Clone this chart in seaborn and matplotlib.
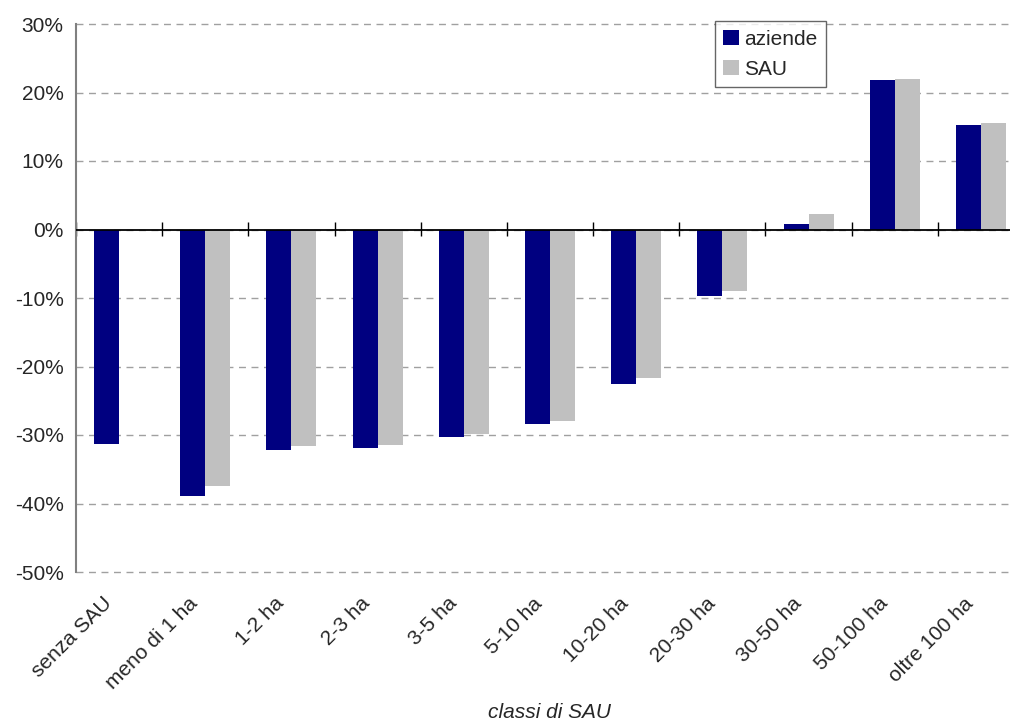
import numpy as np
import pandas as pd
import matplotlib
matplotlib.use('Agg')
import matplotlib.pyplot as plt
from matplotlib.ticker import FuncFormatter, FixedLocator
from matplotlib.transforms import ScaledTranslation
import seaborn as sns

# dati (variazione %)
classi = ['senza SAU', 'meno di 1 ha', '1-2 ha', '2-3 ha', '3-5 ha', '5-10 ha',
          '10-20 ha', '20-30 ha', '30-50 ha', '50-100 ha', 'oltre 100 ha']
aziende = [-31.3, -38.9, -32.2, -31.9, -30.3, -28.4, -22.6, -9.7, 0.8, 21.8, 15.2]
sau = [np.nan, -37.4, -31.6, -31.4, -29.8, -28.0, -21.7, -9.0, 2.2, 22.0, 15.6]
serie = ['aziende', 'SAU']
colori = ['#000080', '#C0C0C0']

df = pd.DataFrame({
    'classe': classi * 2,
    'serie': ['aziende'] * len(classi) + ['SAU'] * len(classi),
    'valore': aziende + sau,
})

sns.set_style("white")
plt.rcParams['font.family'] = ['Liberation Sans', 'DejaVu Sans']

fig = plt.figure(figsize=(10.1, 7.24), dpi=100)
ax = fig.add_axes([76 / 1010, 1 - 572 / 724, 948 / 1010, 548 / 724])

sns.barplot(data=df, x='classe', y='valore', hue='serie', order=classi,
            hue_order=serie, palette=colori, width=0.58, saturation=1,
            linewidth=0, ax=ax, zorder=3)

ax.set_xlim(-0.5, len(classi) - 0.5)
ax.set_ylim(-50, 30)
ax.yaxis.set_major_locator(FixedLocator(np.arange(-50, 31, 10)))
ax.yaxis.set_major_formatter(FuncFormatter(lambda v, p: f'{v:.0f}%'))
ax.grid(axis='y', linestyle=(0, (5, 4)), color='#A0A0A0', linewidth=1, zorder=0)
ax.set_axisbelow(True)
for gl in ax.get_ygridlines():
    gl.set_clip_on(False)

for s in ['top', 'right', 'bottom']:
    ax.spines[s].set_visible(False)
ax.spines['left'].set_color('#808080')
ax.spines['left'].set_linewidth(1.5)

ax.tick_params(axis='y', length=6, width=1, color='#404040', labelsize=15, pad=3)
ax.tick_params(axis='x', length=0, labelsize=15, pad=10)
sposta = ScaledTranslation(-0.17, -0.08, fig.dpi_scale_trans)
for lab in ax.get_xticklabels():
    lab.set_rotation(45)
    lab.set_ha('right')
    lab.set_rotation_mode('anchor')
    lab.set_transform(lab.get_transform() + sposta)

# linea dello zero con tacche di separazione tra le classi
ax.axhline(0, color='black', linewidth=1.3, zorder=4)
sec = ax.secondary_xaxis(50 / 80)
sec.set_xticks(np.arange(-0.5, len(classi), 1.0))
sec.set_xticklabels([])
sec.tick_params(direction='inout', length=10, width=1, color='black')
sec.spines['bottom'].set_visible(False)
sec.spines['top'].set_visible(False)

ax.set_xlabel('classi di SAU', fontsize=15, fontstyle='italic')
ax.xaxis.set_label_coords(0.5, (572 - 712.5) / 548)
ax.xaxis.label.set_va('center')
ax.set_ylabel('')

leg = ax.legend(loc='upper left', bbox_to_anchor=((715 - 76) / 948, 1.005),
                fontsize=15, frameon=True, fancybox=False, edgecolor='#404040',
                handlelength=0.75, handleheight=0.75, handletextpad=0.25,
                borderpad=0.4, labelspacing=0.55, borderaxespad=0)
leg.get_frame().set_linewidth(1)

fig.savefig('out.png', dpi=100)
